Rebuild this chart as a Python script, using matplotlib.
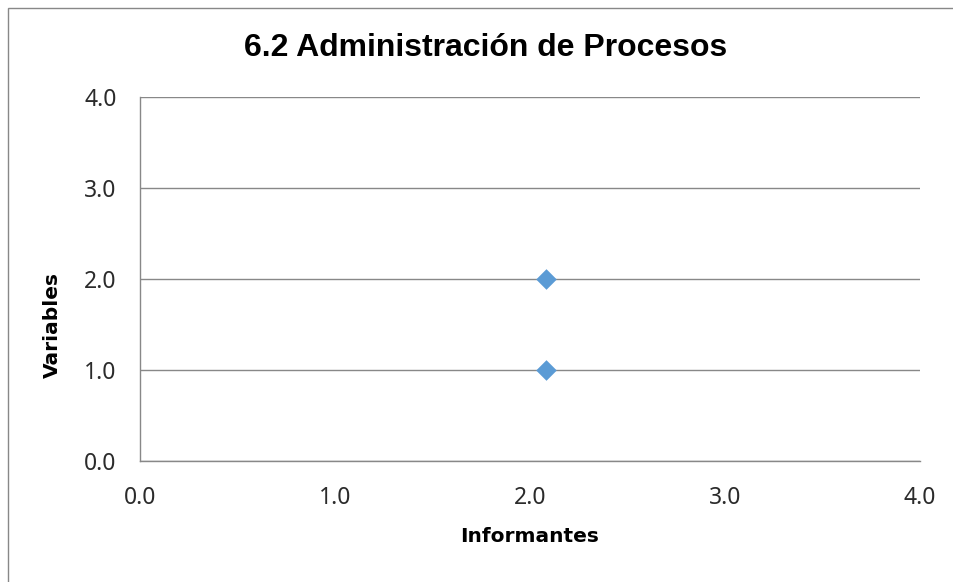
import matplotlib.pyplot as plt
from matplotlib.patches import Rectangle

# data
informantes = [2.08, 2.08]
variables = [2.0, 1.0]
ticks = [0.0, 1.0, 2.0, 3.0, 4.0]

fig = plt.figure(figsize=(9.54, 5.82), dpi=100)
ax = fig.add_axes([140 / 954, 121 / 582, 780 / 954, 364 / 582])

ax.scatter(informantes, variables, marker='D', s=110, color='#5B9BD5', zorder=3, linewidths=0)

ax.set_xlim(0, 4)
ax.set_ylim(0, 4)
ax.set_xticks(ticks)
ax.set_yticks(ticks)
ax.set_xticklabels(['%.1f' % t for t in ticks], fontsize=16.5, family='Noto Sans', color='#2b2b2b')
ax.set_yticklabels(['%.1f' % t for t in ticks], fontsize=16.5, family='Noto Sans', color='#2b2b2b')
ax.tick_params(axis='x', length=0, pad=18)
ax.tick_params(axis='y', length=0, pad=17)

ax.grid(axis='y', color='#888888', linewidth=1)
ax.set_axisbelow(True)
for side in ['top', 'right']:
    ax.spines[side].set_visible(False)
for side in ['left', 'bottom']:
    ax.spines[side].set_color('#888888')
    ax.spines[side].set_linewidth(1)

ax.set_xlabel('Informantes', fontsize=14.5, fontweight='bold', family='DejaVu Sans')
ax.set_ylabel('Variables', fontsize=14.5, fontweight='bold', family='DejaVu Sans')
ax.xaxis.set_label_coords(0.5, -0.181)
ax.yaxis.set_label_coords(-0.1, 0.374)

fig.text(486 / 954, 1 - 48 / 582, '6.2 Administración de Procesos', fontsize=23, fontweight='bold',
         family='Liberation Sans', ha='center', va='center')

# outer chart border
fig.patches.append(Rectangle((8 / 954, -0.1), 1.1, 1 - 8 / 582 + 0.1, transform=fig.transFigure,
                             fill=False, edgecolor='#888888', linewidth=1))

fig.savefig('out.png', dpi=100)
